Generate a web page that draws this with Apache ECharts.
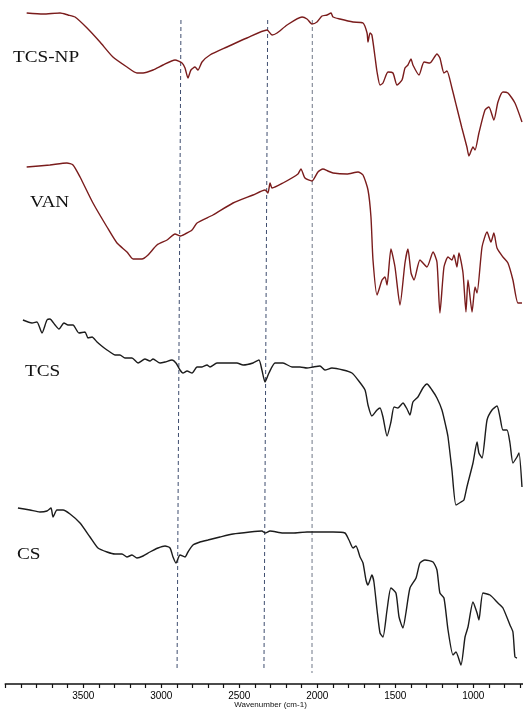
<!DOCTYPE html>
<html>
<head>
<meta charset="utf-8">
<script src="https://cdn.jsdelivr.net/npm/echarts@6/dist/echarts.min.js"></script>
<style>html,body{margin:0;padding:0;background:#fff}#c{width:523px;height:710px}</style>
</head>
<body>
<div id="c"></div>
<script>
// Wavenumber (cm-1) vs. offset transmittance (a.u.)
const tcsNP = [[3863,671],[3758,670],[3649,671],[3598,669],[3553,667],[3476,656],[3393,642],[3310,627],[3220,617],[3156,611],[3117,611],[3053,614],[2989,619],[2912,624],[2867,621],[2848,616],[2829,606],[2810,614],[2784,617],[2765,614],[2739,622],[2688,629],[2579,637],[2451,646],[2322,654],[2290,649],[2258,651],[2194,659],[2098,667],[2066,665],[2034,660],[2002,662],[1970,668],[1938,669],[1912,671],[1899,667],[1855,665],[1771,662],[1707,661],[1681,651],[1675,642],[1662,651],[1650,649],[1630,627],[1617,612],[1598,599],[1579,601],[1547,612],[1515,611],[1489,599],[1457,604],[1438,616],[1419,619],[1399,625],[1387,619],[1348,609],[1316,622],[1278,621],[1233,630],[1214,626],[1188,611],[1169,613],[1137,596],[1105,576],[1073,556],[1041,537],[1028,528],[1002,537],[989,534],[964,551],[925,574],[900,577],[868,564],[842,582],[810,592],[778,591],[733,581],[688,562]];
const van = [[3863,517],[3714,519],[3605,521],[3566,519],[3521,507],[3438,481],[3348,457],[3284,441],[3220,432],[3181,425],[3124,425],[3085,429],[3028,439],[2963,444],[2912,450],[2880,448],[2848,450],[2803,454],[2771,461],[2669,469],[2540,481],[2412,489],[2335,494],[2316,491],[2303,501],[2290,496],[2220,501],[2124,510],[2105,515],[2079,506],[2034,503],[1996,512],[1964,515],[1932,513],[1899,511],[1810,510],[1739,512],[1707,509],[1675,494],[1656,467],[1643,424],[1617,389],[1585,404],[1566,407],[1553,399],[1528,435],[1502,417],[1470,379],[1438,421],[1419,435],[1399,411],[1380,404],[1342,424],[1297,417],[1258,432],[1233,422],[1214,371],[1188,417],[1162,427],[1137,424],[1124,429],[1105,417],[1092,431],[1066,411],[1047,372],[1034,404],[1008,372],[989,397],[976,391],[944,437],[912,452],[887,442],[868,451],[848,436],[810,427],[778,421],[746,404],[714,381],[688,381]];
const tcs = [[3887,364],[3829,361],[3797,362],[3765,351],[3733,364],[3714,365],[3681,359],[3656,355],[3624,361],[3598,359],[3566,359],[3528,351],[3489,352],[3470,346],[3444,347],[3412,342],[3374,337],[3348,334],[3329,332],[3297,329],[3265,329],[3233,326],[3188,326],[3149,321],[3105,325],[3073,323],[3053,325],[3008,321],[2976,322],[2931,324],[2906,321],[2880,314],[2861,311],[2835,313],[2803,311],[2771,317],[2739,317],[2707,319],[2688,317],[2643,321],[2579,321],[2515,321],[2476,319],[2412,321],[2374,324],[2355,314],[2335,302],[2310,311],[2271,321],[2220,321],[2162,317],[2111,317],[2066,316],[2028,317],[1983,318],[1951,314],[1906,316],[1835,314],[1778,311],[1739,304],[1694,294],[1675,279],[1650,268],[1617,274],[1598,276],[1579,267],[1553,248],[1528,262],[1508,277],[1483,276],[1451,281],[1425,275],[1406,269],[1387,282],[1355,287],[1323,296],[1297,300],[1265,294],[1233,286],[1201,274],[1175,257],[1162,247],[1137,214],[1111,179],[1079,182],[1060,184],[1041,197],[1002,221],[976,242],[964,231],[944,226],[912,264],[880,274],[848,278],[829,267],[810,254],[784,254],[765,241],[746,221],[720,227],[707,231],[688,197]];
const cs = [[3919,176],[3842,174],[3778,172],[3733,173],[3707,176],[3694,167],[3669,174],[3630,174],[3585,170],[3521,161],[3457,147],[3406,136],[3348,132],[3297,130],[3252,130],[3220,127],[3188,129],[3156,126],[3117,128],[3073,132],[3021,136],[2976,138],[2944,136],[2925,127],[2906,121],[2880,129],[2848,127],[2829,132],[2797,139],[2752,142],[2701,144],[2624,147],[2540,150],[2432,152],[2355,153],[2335,151],[2303,153],[2220,151],[2156,151],[2066,152],[1983,152],[1899,152],[1823,151],[1797,144],[1771,136],[1752,138],[1726,127],[1707,121],[1688,104],[1675,99],[1650,109],[1637,102],[1617,74],[1598,51],[1579,47],[1553,74],[1528,96],[1496,91],[1476,67],[1451,56],[1432,71],[1406,96],[1367,106],[1342,121],[1310,124],[1258,122],[1233,114],[1214,91],[1188,86],[1162,54],[1130,29],[1111,32],[1079,19],[1053,47],[1034,57],[1002,82],[976,71],[964,64],[938,91],[893,89],[842,81],[810,76],[765,59],[746,52],[733,27],[720,26]];
// Guide lines marking bands (top point, bottom point)
const guide1 = [[2874,664],[2899,14]];
const guide2 = [[2318,664],[2342,14]];
const guide3 = [[2032,664],[2034,11]];
const sampleNames = ['TCS-NP','VAN','TCS','CS'];
const tickLabels = [3500,3000,2500,2000,1500,1000];

const chart = echarts.init(document.getElementById('c'), null, {renderer:'canvas'});
const red = '#7a1c1c', blk = '#1c1c1c';
function spec(name, data, color){
  return {name, type:'line', data, showSymbol:false, smooth:0.2, silent:true,
    lineStyle:{color, width:1.4}, z:3};
}
function guide(data, color){
  return {type:'line', data, showSymbol:false, silent:true,
    lineStyle:{color, width:1, type:[4,3]}, z:2};
}
const labelPos = [[13,58],[30,203],[25,372],[17,555]];
chart.setOption({
  animation:false,
  grid:{left:5.3, right:-12.7, top:0, bottom:26, outerBoundsMode:'none', containLabel:false},
  xAxis:{type:'value', inverse:true, min:600, max:4000, interval:100,
    axisLine:{lineStyle:{color:'#111', width:1.6}},
    axisTick:{length:4, lineStyle:{color:'#111', width:1.2}},
    splitLine:{show:false},
    axisLabel:{color:'#000', fontSize:10, fontFamily:'Liberation Sans', margin:7,
      formatter:v => tickLabels.indexOf(v) >= 0 ? String(v) : ''},
    name:'Wavenumber (cm-1)', nameLocation:'middle', nameGap:17, nameMoveOverlap:false,
    nameTextStyle:{color:'#111', fontSize:8, fontFamily:'Liberation Sans'}
  },
  yAxis:{type:'value', min:0, max:684, show:false},
  series:[
    guide(guide1,'#3d4c6e'), guide(guide2,'#3d4c6e'), guide(guide3,'#6f7787'),
    spec(sampleNames[0], tcsNP, red), spec(sampleNames[1], van, red),
    spec(sampleNames[2], tcs, blk), spec(sampleNames[3], cs, blk)
  ],
  graphic: sampleNames.map((n,i)=>({type:'text', x:labelPos[i][0], y:labelPos[i][1], scaleX:1.2,
    style:{text:n, font:'16px "Liberation Serif"', fill:'#111', textVerticalAlign:'middle', verticalAlign:'middle'}}))
});
</script>
</body>
</html>
